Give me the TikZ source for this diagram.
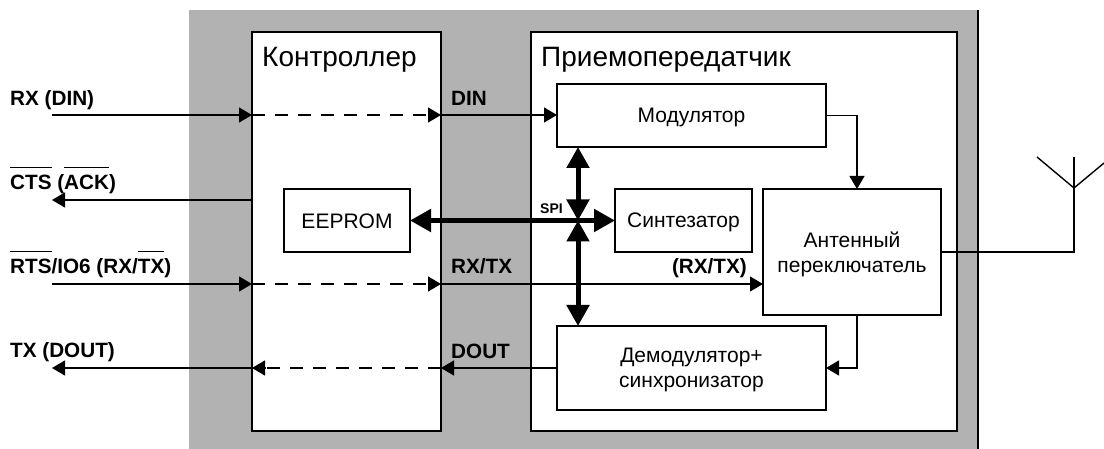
\documentclass[tikz,border=0pt]{standalone}
\usepackage{fontspec}
\setmainfont{Liberation Sans}
\usetikzlibrary{arrows.meta}
\newcommand\obar[1]{\setbox0\hbox{#1}\leavevmode\rlap{\raisebox{21pt}{\rule{\wd0}{1.3pt}}}#1}
\tikzset{
  plain/.style={line width=1.4pt},
  dashwire/.style={line width=1.2pt,dash pattern=on 13pt off 10pt},
  tipwire/.style={line width=1.2pt,-{Triangle[length=13pt,width=15pt]}},
  bus/.style={line width=5pt,{Triangle[length=21pt,width=22pt]}-{Triangle[length=21pt,width=22pt]}},
  box/.style={draw=black,line width=1.5pt,fill=white,inner sep=0pt,outer sep=0pt,anchor=north west},
  boxtext/.style={inner sep=0pt,yshift=-2pt,align=center,font=\fontsize{21}{25}\selectfont},
  sig/.style={anchor=base west,inner sep=0pt,font=\fontsize{20.7}{22}\selectfont\bfseries},
  title/.style={anchor=base west,inner sep=0pt,font=\fontsize{28}{30}\selectfont}
}
\begin{document}
\begin{tikzpicture}[x=1pt,y=-1pt]
\useasboundingbox (0,0) rectangle (1104,449);
\fill[white] (0,0) rectangle (1104,449);
\fill[fill=black!30] (189,10) rectangle (978,449);
\draw[line width=1.5pt] (978,10) -- (978,449);
% large blocks
\node[box,minimum width=189pt,minimum height=399pt] (ctrl) at (252,32) {};
\node[box,minimum width=426pt,minimum height=399pt] (trx) at (531,32) {};
\node[title] (tctrl) at (262,67) {Контроллер};
\node[title] (ttrx) at (541,67) {Приемопередатчик};
% inner blocks
\node[box,minimum width=126pt,minimum height=63pt] (eeprom) at (284,189) {};
\node[box,minimum width=269pt,minimum height=63pt] (mod) at (557,84) {};
\node[box,minimum width=137pt,minimum height=63pt] (syn) at (615,189) {};
\node[box,minimum width=178pt,minimum height=126pt] (sw) at (763,189) {};
\node[box,minimum width=269pt,minimum height=84pt] (dem) at (557,326) {};
\node[boxtext,yshift=1pt] (teeprom) at (eeprom.center) {EEPROM};
\node[boxtext] (tmod) at (mod.center) {Модулятор};
\node[boxtext] (tsyn) at (syn.center) {Синтезатор};
\node[boxtext] (tsw) at (sw.center) {Антенный\\переключатель};
\node[boxtext] (tdem) at (dem.center) {Демодулятор+\\синхронизатор};
% free ends
\coordinate (rxin) at (52,115);
\coordinate (ctsout) at (52,200);
\coordinate (rtsin) at (52,284);
\coordinate (txout) at (52,368);
\coordinate (busx) at (578,220.5);
\coordinate (swx) at (857,252);
\coordinate (antbase) at (1074,188);
\coordinate (anttop) at (1074,157);
\coordinate (antl) at (1037,157);
\coordinate (antr) at (1104,163);
% RX (DIN)
\draw[tipwire] (rxin) -- (ctrl.west |- rxin);
\draw[dashwire] (ctrl.west |- rxin) -- ([xshift=-13pt]ctrl.east |- rxin);
\draw[tipwire] ([xshift=-13pt]ctrl.east |- rxin) -- (ctrl.east |- rxin);
\draw[tipwire] (ctrl.east |- rxin) -- (mod.west |- rxin);
% CTS
\draw[tipwire] (ctrl.west |- ctsout) -- (ctsout);
% RTS
\draw[tipwire] (rtsin) -- (ctrl.west |- rtsin);
\draw[dashwire] (ctrl.west |- rtsin) -- ([xshift=-13pt]ctrl.east |- rtsin);
\draw[tipwire] ([xshift=-13pt]ctrl.east |- rtsin) -- (ctrl.east |- rtsin);
\draw[tipwire] (ctrl.east |- rtsin) -- (sw.west |- rtsin);
% TX
\draw[tipwire] (dem.west |- txout) -- (ctrl.east |- txout);
\draw[dashwire] (ctrl.east |- txout) -- ([xshift=13pt]ctrl.west |- txout);
\draw[tipwire] ([xshift=13pt]ctrl.west |- txout) -- (ctrl.west |- txout);
\draw[tipwire] (ctrl.west |- txout) -- (txout);
% SPI bus
\draw[bus] (eeprom.east) -- (syn.west);
\draw[bus] (mod.south -| busx) -- (busx);
\draw[bus] (busx) -- (dem.north -| busx);
% switch links
\draw[tipwire] (mod.east) -| (sw.north -| swx);
\draw[tipwire] (sw.south -| swx) |- (dem.east);
% antenna
\draw[plain] (sw.east) -| (anttop);
\draw[plain] (antl) -- (antbase) -- (antr);
% labels
\node[sig] (l1) at (10,105.5) {RX (DIN)};
\node[sig] (l2) at (10,189.5) {\obar{CTS} (\obar{ACK})};
\node[sig] (l3) at (10,273.5) {\obar{RTS}/IO6 (RX/\obar{TX})};
\node[sig] (l4) at (10,357.5) {TX (DOUT)};
\node[sig] (l5) at (451,106) {DIN};
\node[sig] (l6) at (451,274) {RX/TX};
\node[sig] (l7) at (451,358) {DOUT};
\node[sig,anchor=base east] (l8) at (747,274) {(RX/TX)};
\node[sig,font=\fontsize{14}{15}\selectfont\bfseries] (l9) at (540,214) {SPI};
\end{tikzpicture}
\end{document}
